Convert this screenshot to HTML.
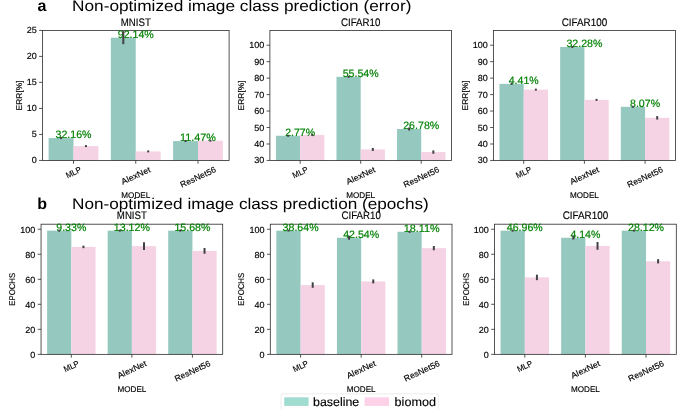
<!DOCTYPE html>
<html><head><meta charset="utf-8"><title>chart</title>
<style>html,body{margin:0;padding:0;background:#fff;overflow:hidden;}svg{display:block;will-change:transform;}text{font-family:"Liberation Sans",sans-serif;text-rendering:geometricPrecision;}</style>
</head><body>
<svg width="685" height="409" viewBox="0 0 685 409">
<rect width="685" height="409" fill="#ffffff"/>
<rect x="48.62" y="138.08" width="24.89" height="22.37" fill="#95c9bf"/>
<rect x="73.52" y="146.09" width="24.89" height="14.36" fill="#f5d3e5"/>
<rect x="110.86" y="37.68" width="24.89" height="122.77" fill="#95c9bf"/>
<rect x="135.75" y="151.40" width="24.89" height="9.05" fill="#f5d3e5"/>
<rect x="173.09" y="141.10" width="24.89" height="19.35" fill="#95c9bf"/>
<rect x="197.98" y="140.68" width="24.89" height="19.77" fill="#f5d3e5"/>
<rect x="42.40" y="30.40" width="186.70" height="130.05" fill="none" stroke="#2b2b2b" stroke-width="0.8"/>
<line x1="39.10" y1="160.45" x2="42.40" y2="160.45" stroke="#2b2b2b" stroke-width="0.8"/>
<text x="36.75" y="163.45" font-size="8.85" text-anchor="end" textLength="5.03" lengthAdjust="spacingAndGlyphs" fill="#000" stroke="#000" stroke-width="0.15">0</text>
<line x1="39.10" y1="134.44" x2="42.40" y2="134.44" stroke="#2b2b2b" stroke-width="0.8"/>
<text x="36.75" y="137.44" font-size="8.85" text-anchor="end" textLength="5.03" lengthAdjust="spacingAndGlyphs" fill="#000" stroke="#000" stroke-width="0.15">5</text>
<line x1="39.10" y1="108.43" x2="42.40" y2="108.43" stroke="#2b2b2b" stroke-width="0.8"/>
<text x="36.75" y="111.43" font-size="8.85" text-anchor="end" textLength="10.05" lengthAdjust="spacingAndGlyphs" fill="#000" stroke="#000" stroke-width="0.15">10</text>
<line x1="39.10" y1="82.42" x2="42.40" y2="82.42" stroke="#2b2b2b" stroke-width="0.8"/>
<text x="36.75" y="85.42" font-size="8.85" text-anchor="end" textLength="10.05" lengthAdjust="spacingAndGlyphs" fill="#000" stroke="#000" stroke-width="0.15">15</text>
<line x1="39.10" y1="56.41" x2="42.40" y2="56.41" stroke="#2b2b2b" stroke-width="0.8"/>
<text x="36.75" y="59.41" font-size="8.85" text-anchor="end" textLength="10.05" lengthAdjust="spacingAndGlyphs" fill="#000" stroke="#000" stroke-width="0.15">20</text>
<line x1="39.10" y1="30.40" x2="42.40" y2="30.40" stroke="#2b2b2b" stroke-width="0.8"/>
<text x="36.75" y="33.40" font-size="8.85" text-anchor="end" textLength="10.05" lengthAdjust="spacingAndGlyphs" fill="#000" stroke="#000" stroke-width="0.15">25</text>
<line x1="73.52" y1="160.45" x2="73.52" y2="163.75" stroke="#2b2b2b" stroke-width="0.8"/>
<text x="73.52" y="175.28" font-size="8.32" text-anchor="middle" textLength="16.18" lengthAdjust="spacingAndGlyphs" stroke="#000" stroke-width="0.15" transform="rotate(-25 73.52 172.38)">MLP</text>
<line x1="135.75" y1="160.45" x2="135.75" y2="163.75" stroke="#2b2b2b" stroke-width="0.8"/>
<text x="135.75" y="178.46" font-size="8.32" text-anchor="middle" textLength="31.25" lengthAdjust="spacingAndGlyphs" stroke="#000" stroke-width="0.15" transform="rotate(-25 135.75 175.56)">AlexNet</text>
<line x1="197.98" y1="160.45" x2="197.98" y2="163.75" stroke="#2b2b2b" stroke-width="0.8"/>
<text x="197.98" y="179.99" font-size="8.32" text-anchor="middle" textLength="38.51" lengthAdjust="spacingAndGlyphs" stroke="#000" stroke-width="0.15" transform="rotate(-25 197.98 177.09)">ResNet56</text>
<text x="135.75" y="198.25" font-size="8.32" text-anchor="middle" textLength="28.87" lengthAdjust="spacingAndGlyphs" fill="#000" stroke="#000" stroke-width="0.15">MODEL</text>
<text x="21.80" y="95.42" font-size="8.32" text-anchor="middle" textLength="30.02" lengthAdjust="spacingAndGlyphs" transform="rotate(-90 21.80 95.42)" fill="#000" stroke="#000" stroke-width="0.15">ERR[%]</text>
<text x="135.75" y="25.50" font-size="10.98" text-anchor="middle" textLength="30.10" lengthAdjust="spacingAndGlyphs" fill="#000" stroke="#000" stroke-width="0.15">MNIST</text>
<text x="73.52" y="138.38" font-size="10.73" text-anchor="middle" textLength="36.03" lengthAdjust="spacingAndGlyphs" fill="#008000" stroke="#008000" stroke-width="0.18">32.16%</text>
<text x="135.75" y="37.98" font-size="10.73" text-anchor="middle" textLength="36.03" lengthAdjust="spacingAndGlyphs" fill="#008000" stroke="#008000" stroke-width="0.18">92.14%</text>
<text x="197.98" y="141.40" font-size="10.73" text-anchor="middle" textLength="36.03" lengthAdjust="spacingAndGlyphs" fill="#008000" stroke="#008000" stroke-width="0.18">11.47%</text>
<line x1="61.07" y1="137.08" x2="61.07" y2="139.08" stroke="#424242" stroke-width="2"/>
<line x1="85.96" y1="145.09" x2="85.96" y2="147.09" stroke="#424242" stroke-width="2"/>
<line x1="123.30" y1="31.18" x2="123.30" y2="44.19" stroke="#424242" stroke-width="2"/>
<line x1="148.20" y1="150.40" x2="148.20" y2="152.40" stroke="#424242" stroke-width="2"/>
<line x1="185.54" y1="140.10" x2="185.54" y2="142.10" stroke="#424242" stroke-width="2"/>
<line x1="210.43" y1="139.68" x2="210.43" y2="141.68" stroke="#424242" stroke-width="2"/>
<rect x="275.95" y="135.75" width="24.21" height="24.70" fill="#95c9bf"/>
<rect x="300.17" y="134.93" width="24.21" height="25.52" fill="#f5d3e5"/>
<rect x="336.49" y="76.81" width="24.21" height="83.64" fill="#95c9bf"/>
<rect x="360.70" y="149.42" width="24.21" height="11.03" fill="#f5d3e5"/>
<rect x="397.02" y="129.00" width="24.21" height="31.45" fill="#95c9bf"/>
<rect x="421.23" y="152.05" width="24.21" height="8.40" fill="#f5d3e5"/>
<rect x="269.90" y="30.40" width="181.60" height="130.05" fill="none" stroke="#2b2b2b" stroke-width="0.8"/>
<line x1="266.60" y1="160.45" x2="269.90" y2="160.45" stroke="#2b2b2b" stroke-width="0.8"/>
<text x="264.25" y="163.45" font-size="8.85" text-anchor="end" textLength="10.05" lengthAdjust="spacingAndGlyphs" fill="#000" stroke="#000" stroke-width="0.15">30</text>
<line x1="266.60" y1="143.99" x2="269.90" y2="143.99" stroke="#2b2b2b" stroke-width="0.8"/>
<text x="264.25" y="146.99" font-size="8.85" text-anchor="end" textLength="10.05" lengthAdjust="spacingAndGlyphs" fill="#000" stroke="#000" stroke-width="0.15">40</text>
<line x1="266.60" y1="127.52" x2="269.90" y2="127.52" stroke="#2b2b2b" stroke-width="0.8"/>
<text x="264.25" y="130.52" font-size="8.85" text-anchor="end" textLength="10.05" lengthAdjust="spacingAndGlyphs" fill="#000" stroke="#000" stroke-width="0.15">50</text>
<line x1="266.60" y1="111.06" x2="269.90" y2="111.06" stroke="#2b2b2b" stroke-width="0.8"/>
<text x="264.25" y="114.06" font-size="8.85" text-anchor="end" textLength="10.05" lengthAdjust="spacingAndGlyphs" fill="#000" stroke="#000" stroke-width="0.15">60</text>
<line x1="266.60" y1="94.59" x2="269.90" y2="94.59" stroke="#2b2b2b" stroke-width="0.8"/>
<text x="264.25" y="97.59" font-size="8.85" text-anchor="end" textLength="10.05" lengthAdjust="spacingAndGlyphs" fill="#000" stroke="#000" stroke-width="0.15">70</text>
<line x1="266.60" y1="78.13" x2="269.90" y2="78.13" stroke="#2b2b2b" stroke-width="0.8"/>
<text x="264.25" y="81.13" font-size="8.85" text-anchor="end" textLength="10.05" lengthAdjust="spacingAndGlyphs" fill="#000" stroke="#000" stroke-width="0.15">80</text>
<line x1="266.60" y1="61.67" x2="269.90" y2="61.67" stroke="#2b2b2b" stroke-width="0.8"/>
<text x="264.25" y="64.67" font-size="8.85" text-anchor="end" textLength="10.05" lengthAdjust="spacingAndGlyphs" fill="#000" stroke="#000" stroke-width="0.15">90</text>
<line x1="266.60" y1="45.20" x2="269.90" y2="45.20" stroke="#2b2b2b" stroke-width="0.8"/>
<text x="264.25" y="48.20" font-size="8.85" text-anchor="end" textLength="15.08" lengthAdjust="spacingAndGlyphs" fill="#000" stroke="#000" stroke-width="0.15">100</text>
<line x1="300.17" y1="160.45" x2="300.17" y2="163.75" stroke="#2b2b2b" stroke-width="0.8"/>
<text x="300.17" y="175.28" font-size="8.32" text-anchor="middle" textLength="16.18" lengthAdjust="spacingAndGlyphs" stroke="#000" stroke-width="0.15" transform="rotate(-25 300.17 172.38)">MLP</text>
<line x1="360.70" y1="160.45" x2="360.70" y2="163.75" stroke="#2b2b2b" stroke-width="0.8"/>
<text x="360.70" y="178.46" font-size="8.32" text-anchor="middle" textLength="31.25" lengthAdjust="spacingAndGlyphs" stroke="#000" stroke-width="0.15" transform="rotate(-25 360.70 175.56)">AlexNet</text>
<line x1="421.23" y1="160.45" x2="421.23" y2="163.75" stroke="#2b2b2b" stroke-width="0.8"/>
<text x="421.23" y="179.99" font-size="8.32" text-anchor="middle" textLength="38.51" lengthAdjust="spacingAndGlyphs" stroke="#000" stroke-width="0.15" transform="rotate(-25 421.23 177.09)">ResNet56</text>
<text x="360.70" y="198.25" font-size="8.32" text-anchor="middle" textLength="28.87" lengthAdjust="spacingAndGlyphs" fill="#000" stroke="#000" stroke-width="0.15">MODEL</text>
<text x="244.10" y="95.42" font-size="8.32" text-anchor="middle" textLength="30.02" lengthAdjust="spacingAndGlyphs" transform="rotate(-90 244.10 95.42)" fill="#000" stroke="#000" stroke-width="0.15">ERR[%]</text>
<text x="360.70" y="25.50" font-size="10.98" text-anchor="middle" textLength="39.42" lengthAdjust="spacingAndGlyphs" fill="#000" stroke="#000" stroke-width="0.15">CIFAR10</text>
<text x="300.17" y="136.05" font-size="10.73" text-anchor="middle" textLength="30.02" lengthAdjust="spacingAndGlyphs" fill="#008000" stroke="#008000" stroke-width="0.18">2.77%</text>
<text x="360.70" y="77.11" font-size="10.73" text-anchor="middle" textLength="36.03" lengthAdjust="spacingAndGlyphs" fill="#008000" stroke="#008000" stroke-width="0.18">55.54%</text>
<text x="421.23" y="129.30" font-size="10.73" text-anchor="middle" textLength="36.03" lengthAdjust="spacingAndGlyphs" fill="#008000" stroke="#008000" stroke-width="0.18">26.78%</text>
<line x1="288.06" y1="134.75" x2="288.06" y2="136.75" stroke="#424242" stroke-width="2"/>
<line x1="312.27" y1="133.93" x2="312.27" y2="135.93" stroke="#424242" stroke-width="2"/>
<line x1="348.59" y1="75.81" x2="348.59" y2="77.81" stroke="#424242" stroke-width="2"/>
<line x1="372.81" y1="147.94" x2="372.81" y2="150.90" stroke="#424242" stroke-width="2"/>
<line x1="409.13" y1="127.52" x2="409.13" y2="130.49" stroke="#424242" stroke-width="2"/>
<line x1="433.34" y1="150.41" x2="433.34" y2="153.70" stroke="#424242" stroke-width="2"/>
<rect x="499.47" y="83.89" width="24.27" height="76.56" fill="#95c9bf"/>
<rect x="523.73" y="89.65" width="24.27" height="70.80" fill="#f5d3e5"/>
<rect x="560.13" y="47.01" width="24.27" height="113.44" fill="#95c9bf"/>
<rect x="584.40" y="99.86" width="24.27" height="60.59" fill="#f5d3e5"/>
<rect x="620.80" y="106.78" width="24.27" height="53.67" fill="#95c9bf"/>
<rect x="645.07" y="117.81" width="24.27" height="42.64" fill="#f5d3e5"/>
<rect x="493.40" y="30.40" width="182.00" height="130.05" fill="none" stroke="#2b2b2b" stroke-width="0.8"/>
<line x1="490.10" y1="160.45" x2="493.40" y2="160.45" stroke="#2b2b2b" stroke-width="0.8"/>
<text x="487.75" y="163.45" font-size="8.85" text-anchor="end" textLength="10.05" lengthAdjust="spacingAndGlyphs" fill="#000" stroke="#000" stroke-width="0.15">30</text>
<line x1="490.10" y1="143.99" x2="493.40" y2="143.99" stroke="#2b2b2b" stroke-width="0.8"/>
<text x="487.75" y="146.99" font-size="8.85" text-anchor="end" textLength="10.05" lengthAdjust="spacingAndGlyphs" fill="#000" stroke="#000" stroke-width="0.15">40</text>
<line x1="490.10" y1="127.52" x2="493.40" y2="127.52" stroke="#2b2b2b" stroke-width="0.8"/>
<text x="487.75" y="130.52" font-size="8.85" text-anchor="end" textLength="10.05" lengthAdjust="spacingAndGlyphs" fill="#000" stroke="#000" stroke-width="0.15">50</text>
<line x1="490.10" y1="111.06" x2="493.40" y2="111.06" stroke="#2b2b2b" stroke-width="0.8"/>
<text x="487.75" y="114.06" font-size="8.85" text-anchor="end" textLength="10.05" lengthAdjust="spacingAndGlyphs" fill="#000" stroke="#000" stroke-width="0.15">60</text>
<line x1="490.10" y1="94.59" x2="493.40" y2="94.59" stroke="#2b2b2b" stroke-width="0.8"/>
<text x="487.75" y="97.59" font-size="8.85" text-anchor="end" textLength="10.05" lengthAdjust="spacingAndGlyphs" fill="#000" stroke="#000" stroke-width="0.15">70</text>
<line x1="490.10" y1="78.13" x2="493.40" y2="78.13" stroke="#2b2b2b" stroke-width="0.8"/>
<text x="487.75" y="81.13" font-size="8.85" text-anchor="end" textLength="10.05" lengthAdjust="spacingAndGlyphs" fill="#000" stroke="#000" stroke-width="0.15">80</text>
<line x1="490.10" y1="61.67" x2="493.40" y2="61.67" stroke="#2b2b2b" stroke-width="0.8"/>
<text x="487.75" y="64.67" font-size="8.85" text-anchor="end" textLength="10.05" lengthAdjust="spacingAndGlyphs" fill="#000" stroke="#000" stroke-width="0.15">90</text>
<line x1="490.10" y1="45.20" x2="493.40" y2="45.20" stroke="#2b2b2b" stroke-width="0.8"/>
<text x="487.75" y="48.20" font-size="8.85" text-anchor="end" textLength="15.08" lengthAdjust="spacingAndGlyphs" fill="#000" stroke="#000" stroke-width="0.15">100</text>
<line x1="523.73" y1="160.45" x2="523.73" y2="163.75" stroke="#2b2b2b" stroke-width="0.8"/>
<text x="523.73" y="175.28" font-size="8.32" text-anchor="middle" textLength="16.18" lengthAdjust="spacingAndGlyphs" stroke="#000" stroke-width="0.15" transform="rotate(-25 523.73 172.38)">MLP</text>
<line x1="584.40" y1="160.45" x2="584.40" y2="163.75" stroke="#2b2b2b" stroke-width="0.8"/>
<text x="584.40" y="178.46" font-size="8.32" text-anchor="middle" textLength="31.25" lengthAdjust="spacingAndGlyphs" stroke="#000" stroke-width="0.15" transform="rotate(-25 584.40 175.56)">AlexNet</text>
<line x1="645.07" y1="160.45" x2="645.07" y2="163.75" stroke="#2b2b2b" stroke-width="0.8"/>
<text x="645.07" y="179.99" font-size="8.32" text-anchor="middle" textLength="38.51" lengthAdjust="spacingAndGlyphs" stroke="#000" stroke-width="0.15" transform="rotate(-25 645.07 177.09)">ResNet56</text>
<text x="584.40" y="198.25" font-size="8.32" text-anchor="middle" textLength="28.87" lengthAdjust="spacingAndGlyphs" fill="#000" stroke="#000" stroke-width="0.15">MODEL</text>
<text x="467.60" y="95.42" font-size="8.32" text-anchor="middle" textLength="30.02" lengthAdjust="spacingAndGlyphs" transform="rotate(-90 467.60 95.42)" fill="#000" stroke="#000" stroke-width="0.15">ERR[%]</text>
<text x="584.40" y="25.50" font-size="10.98" text-anchor="middle" textLength="45.50" lengthAdjust="spacingAndGlyphs" fill="#000" stroke="#000" stroke-width="0.15">CIFAR100</text>
<text x="523.73" y="84.19" font-size="10.73" text-anchor="middle" textLength="30.02" lengthAdjust="spacingAndGlyphs" fill="#008000" stroke="#008000" stroke-width="0.18">4.41%</text>
<text x="584.40" y="47.31" font-size="10.73" text-anchor="middle" textLength="36.03" lengthAdjust="spacingAndGlyphs" fill="#008000" stroke="#008000" stroke-width="0.18">32.28%</text>
<text x="645.07" y="107.08" font-size="10.73" text-anchor="middle" textLength="30.02" lengthAdjust="spacingAndGlyphs" fill="#008000" stroke="#008000" stroke-width="0.18">8.07%</text>
<line x1="511.60" y1="82.89" x2="511.60" y2="84.89" stroke="#424242" stroke-width="2"/>
<line x1="535.87" y1="88.65" x2="535.87" y2="90.65" stroke="#424242" stroke-width="2"/>
<line x1="572.27" y1="46.01" x2="572.27" y2="48.01" stroke="#424242" stroke-width="2"/>
<line x1="596.53" y1="98.86" x2="596.53" y2="100.86" stroke="#424242" stroke-width="2"/>
<line x1="632.93" y1="105.78" x2="632.93" y2="107.78" stroke="#424242" stroke-width="2"/>
<line x1="657.20" y1="116.08" x2="657.20" y2="119.54" stroke="#424242" stroke-width="2"/>
<rect x="47.10" y="230.64" width="24.22" height="123.71" fill="#95c9bf"/>
<rect x="71.32" y="246.90" width="24.22" height="107.45" fill="#f5d3e5"/>
<rect x="107.66" y="230.64" width="24.22" height="123.71" fill="#95c9bf"/>
<rect x="131.88" y="246.15" width="24.22" height="108.20" fill="#f5d3e5"/>
<rect x="168.20" y="230.64" width="24.22" height="123.71" fill="#95c9bf"/>
<rect x="192.42" y="250.90" width="24.22" height="103.45" fill="#f5d3e5"/>
<rect x="41.05" y="224.20" width="181.65" height="130.15" fill="none" stroke="#2b2b2b" stroke-width="0.8"/>
<line x1="37.75" y1="354.35" x2="41.05" y2="354.35" stroke="#2b2b2b" stroke-width="0.8"/>
<text x="35.40" y="357.85" font-size="8.85" text-anchor="end" textLength="5.03" lengthAdjust="spacingAndGlyphs" fill="#000" stroke="#000" stroke-width="0.15">0</text>
<line x1="37.75" y1="329.33" x2="41.05" y2="329.33" stroke="#2b2b2b" stroke-width="0.8"/>
<text x="35.40" y="332.83" font-size="8.85" text-anchor="end" textLength="10.05" lengthAdjust="spacingAndGlyphs" fill="#000" stroke="#000" stroke-width="0.15">20</text>
<line x1="37.75" y1="304.31" x2="41.05" y2="304.31" stroke="#2b2b2b" stroke-width="0.8"/>
<text x="35.40" y="307.81" font-size="8.85" text-anchor="end" textLength="10.05" lengthAdjust="spacingAndGlyphs" fill="#000" stroke="#000" stroke-width="0.15">40</text>
<line x1="37.75" y1="279.30" x2="41.05" y2="279.30" stroke="#2b2b2b" stroke-width="0.8"/>
<text x="35.40" y="282.80" font-size="8.85" text-anchor="end" textLength="10.05" lengthAdjust="spacingAndGlyphs" fill="#000" stroke="#000" stroke-width="0.15">60</text>
<line x1="37.75" y1="254.28" x2="41.05" y2="254.28" stroke="#2b2b2b" stroke-width="0.8"/>
<text x="35.40" y="257.78" font-size="8.85" text-anchor="end" textLength="10.05" lengthAdjust="spacingAndGlyphs" fill="#000" stroke="#000" stroke-width="0.15">80</text>
<line x1="37.75" y1="229.26" x2="41.05" y2="229.26" stroke="#2b2b2b" stroke-width="0.8"/>
<text x="35.40" y="232.76" font-size="8.85" text-anchor="end" textLength="15.08" lengthAdjust="spacingAndGlyphs" fill="#000" stroke="#000" stroke-width="0.15">100</text>
<line x1="71.32" y1="354.35" x2="71.32" y2="357.65" stroke="#2b2b2b" stroke-width="0.8"/>
<text x="71.32" y="369.18" font-size="8.32" text-anchor="middle" textLength="16.18" lengthAdjust="spacingAndGlyphs" stroke="#000" stroke-width="0.15" transform="rotate(-25 71.32 366.28)">MLP</text>
<line x1="131.88" y1="354.35" x2="131.88" y2="357.65" stroke="#2b2b2b" stroke-width="0.8"/>
<text x="131.88" y="372.36" font-size="8.32" text-anchor="middle" textLength="31.25" lengthAdjust="spacingAndGlyphs" stroke="#000" stroke-width="0.15" transform="rotate(-25 131.88 369.46)">AlexNet</text>
<line x1="192.42" y1="354.35" x2="192.42" y2="357.65" stroke="#2b2b2b" stroke-width="0.8"/>
<text x="192.42" y="373.89" font-size="8.32" text-anchor="middle" textLength="38.51" lengthAdjust="spacingAndGlyphs" stroke="#000" stroke-width="0.15" transform="rotate(-25 192.42 370.99)">ResNet56</text>
<text x="131.88" y="391.75" font-size="8.32" text-anchor="middle" textLength="28.87" lengthAdjust="spacingAndGlyphs" fill="#000" stroke="#000" stroke-width="0.15">MODEL</text>
<text x="15.40" y="289.27" font-size="8.32" text-anchor="middle" textLength="32.86" lengthAdjust="spacingAndGlyphs" transform="rotate(-90 15.40 289.27)" fill="#000" stroke="#000" stroke-width="0.15">EPOCHS</text>
<text x="131.88" y="219.30" font-size="10.98" text-anchor="middle" textLength="30.10" lengthAdjust="spacingAndGlyphs" fill="#000" stroke="#000" stroke-width="0.15">MNIST</text>
<text x="71.32" y="230.94" font-size="10.73" text-anchor="middle" textLength="30.02" lengthAdjust="spacingAndGlyphs" fill="#008000" stroke="#008000" stroke-width="0.18">9.33%</text>
<text x="131.88" y="230.94" font-size="10.73" text-anchor="middle" textLength="36.03" lengthAdjust="spacingAndGlyphs" fill="#008000" stroke="#008000" stroke-width="0.18">13.12%</text>
<text x="192.42" y="230.94" font-size="10.73" text-anchor="middle" textLength="36.03" lengthAdjust="spacingAndGlyphs" fill="#008000" stroke="#008000" stroke-width="0.18">15.68%</text>
<line x1="59.21" y1="229.64" x2="59.21" y2="231.64" stroke="#424242" stroke-width="2"/>
<line x1="83.43" y1="245.65" x2="83.43" y2="248.15" stroke="#424242" stroke-width="2"/>
<line x1="119.77" y1="229.64" x2="119.77" y2="231.64" stroke="#424242" stroke-width="2"/>
<line x1="143.99" y1="242.27" x2="143.99" y2="250.02" stroke="#424242" stroke-width="2"/>
<line x1="180.31" y1="229.64" x2="180.31" y2="231.64" stroke="#424242" stroke-width="2"/>
<line x1="204.53" y1="248.02" x2="204.53" y2="253.78" stroke="#424242" stroke-width="2"/>
<rect x="276.36" y="230.64" width="24.23" height="123.71" fill="#95c9bf"/>
<rect x="300.58" y="285.05" width="24.23" height="69.30" fill="#f5d3e5"/>
<rect x="336.92" y="237.77" width="24.23" height="116.58" fill="#95c9bf"/>
<rect x="361.15" y="281.42" width="24.23" height="72.93" fill="#f5d3e5"/>
<rect x="397.49" y="231.76" width="24.23" height="122.59" fill="#95c9bf"/>
<rect x="421.72" y="248.15" width="24.23" height="106.20" fill="#f5d3e5"/>
<rect x="270.30" y="224.20" width="181.70" height="130.15" fill="none" stroke="#2b2b2b" stroke-width="0.8"/>
<line x1="267.00" y1="354.35" x2="270.30" y2="354.35" stroke="#2b2b2b" stroke-width="0.8"/>
<text x="264.65" y="357.85" font-size="8.85" text-anchor="end" textLength="5.03" lengthAdjust="spacingAndGlyphs" fill="#000" stroke="#000" stroke-width="0.15">0</text>
<line x1="267.00" y1="329.33" x2="270.30" y2="329.33" stroke="#2b2b2b" stroke-width="0.8"/>
<text x="264.65" y="332.83" font-size="8.85" text-anchor="end" textLength="10.05" lengthAdjust="spacingAndGlyphs" fill="#000" stroke="#000" stroke-width="0.15">20</text>
<line x1="267.00" y1="304.31" x2="270.30" y2="304.31" stroke="#2b2b2b" stroke-width="0.8"/>
<text x="264.65" y="307.81" font-size="8.85" text-anchor="end" textLength="10.05" lengthAdjust="spacingAndGlyphs" fill="#000" stroke="#000" stroke-width="0.15">40</text>
<line x1="267.00" y1="279.30" x2="270.30" y2="279.30" stroke="#2b2b2b" stroke-width="0.8"/>
<text x="264.65" y="282.80" font-size="8.85" text-anchor="end" textLength="10.05" lengthAdjust="spacingAndGlyphs" fill="#000" stroke="#000" stroke-width="0.15">60</text>
<line x1="267.00" y1="254.28" x2="270.30" y2="254.28" stroke="#2b2b2b" stroke-width="0.8"/>
<text x="264.65" y="257.78" font-size="8.85" text-anchor="end" textLength="10.05" lengthAdjust="spacingAndGlyphs" fill="#000" stroke="#000" stroke-width="0.15">80</text>
<line x1="267.00" y1="229.26" x2="270.30" y2="229.26" stroke="#2b2b2b" stroke-width="0.8"/>
<text x="264.65" y="232.76" font-size="8.85" text-anchor="end" textLength="15.08" lengthAdjust="spacingAndGlyphs" fill="#000" stroke="#000" stroke-width="0.15">100</text>
<line x1="300.58" y1="354.35" x2="300.58" y2="357.65" stroke="#2b2b2b" stroke-width="0.8"/>
<text x="300.58" y="369.18" font-size="8.32" text-anchor="middle" textLength="16.18" lengthAdjust="spacingAndGlyphs" stroke="#000" stroke-width="0.15" transform="rotate(-25 300.58 366.28)">MLP</text>
<line x1="361.15" y1="354.35" x2="361.15" y2="357.65" stroke="#2b2b2b" stroke-width="0.8"/>
<text x="361.15" y="372.36" font-size="8.32" text-anchor="middle" textLength="31.25" lengthAdjust="spacingAndGlyphs" stroke="#000" stroke-width="0.15" transform="rotate(-25 361.15 369.46)">AlexNet</text>
<line x1="421.72" y1="354.35" x2="421.72" y2="357.65" stroke="#2b2b2b" stroke-width="0.8"/>
<text x="421.72" y="373.89" font-size="8.32" text-anchor="middle" textLength="38.51" lengthAdjust="spacingAndGlyphs" stroke="#000" stroke-width="0.15" transform="rotate(-25 421.72 370.99)">ResNet56</text>
<text x="361.15" y="391.75" font-size="8.32" text-anchor="middle" textLength="28.87" lengthAdjust="spacingAndGlyphs" fill="#000" stroke="#000" stroke-width="0.15">MODEL</text>
<text x="244.50" y="289.27" font-size="8.32" text-anchor="middle" textLength="32.86" lengthAdjust="spacingAndGlyphs" transform="rotate(-90 244.50 289.27)" fill="#000" stroke="#000" stroke-width="0.15">EPOCHS</text>
<text x="361.15" y="219.30" font-size="10.98" text-anchor="middle" textLength="39.42" lengthAdjust="spacingAndGlyphs" fill="#000" stroke="#000" stroke-width="0.15">CIFAR10</text>
<text x="300.58" y="230.94" font-size="10.73" text-anchor="middle" textLength="36.03" lengthAdjust="spacingAndGlyphs" fill="#008000" stroke="#008000" stroke-width="0.18">38.64%</text>
<text x="361.15" y="238.07" font-size="10.73" text-anchor="middle" textLength="36.03" lengthAdjust="spacingAndGlyphs" fill="#008000" stroke="#008000" stroke-width="0.18">42.54%</text>
<text x="421.72" y="232.06" font-size="10.73" text-anchor="middle" textLength="36.03" lengthAdjust="spacingAndGlyphs" fill="#008000" stroke="#008000" stroke-width="0.18">18.11%</text>
<line x1="288.47" y1="229.64" x2="288.47" y2="231.64" stroke="#424242" stroke-width="2"/>
<line x1="312.70" y1="282.30" x2="312.70" y2="287.80" stroke="#424242" stroke-width="2"/>
<line x1="349.04" y1="235.76" x2="349.04" y2="239.77" stroke="#424242" stroke-width="2"/>
<line x1="373.26" y1="279.42" x2="373.26" y2="283.42" stroke="#424242" stroke-width="2"/>
<line x1="409.60" y1="230.64" x2="409.60" y2="232.89" stroke="#424242" stroke-width="2"/>
<line x1="433.83" y1="246.02" x2="433.83" y2="250.28" stroke="#424242" stroke-width="2"/>
<rect x="500.56" y="230.64" width="24.24" height="123.71" fill="#95c9bf"/>
<rect x="524.80" y="277.42" width="24.24" height="76.93" fill="#f5d3e5"/>
<rect x="561.16" y="237.77" width="24.24" height="116.58" fill="#95c9bf"/>
<rect x="585.40" y="245.90" width="24.24" height="108.45" fill="#f5d3e5"/>
<rect x="621.76" y="230.64" width="24.24" height="123.71" fill="#95c9bf"/>
<rect x="646.00" y="261.28" width="24.24" height="93.07" fill="#f5d3e5"/>
<rect x="494.50" y="224.20" width="181.80" height="130.15" fill="none" stroke="#2b2b2b" stroke-width="0.8"/>
<line x1="491.20" y1="354.35" x2="494.50" y2="354.35" stroke="#2b2b2b" stroke-width="0.8"/>
<text x="488.85" y="357.85" font-size="8.85" text-anchor="end" textLength="5.03" lengthAdjust="spacingAndGlyphs" fill="#000" stroke="#000" stroke-width="0.15">0</text>
<line x1="491.20" y1="329.33" x2="494.50" y2="329.33" stroke="#2b2b2b" stroke-width="0.8"/>
<text x="488.85" y="332.83" font-size="8.85" text-anchor="end" textLength="10.05" lengthAdjust="spacingAndGlyphs" fill="#000" stroke="#000" stroke-width="0.15">20</text>
<line x1="491.20" y1="304.31" x2="494.50" y2="304.31" stroke="#2b2b2b" stroke-width="0.8"/>
<text x="488.85" y="307.81" font-size="8.85" text-anchor="end" textLength="10.05" lengthAdjust="spacingAndGlyphs" fill="#000" stroke="#000" stroke-width="0.15">40</text>
<line x1="491.20" y1="279.30" x2="494.50" y2="279.30" stroke="#2b2b2b" stroke-width="0.8"/>
<text x="488.85" y="282.80" font-size="8.85" text-anchor="end" textLength="10.05" lengthAdjust="spacingAndGlyphs" fill="#000" stroke="#000" stroke-width="0.15">60</text>
<line x1="491.20" y1="254.28" x2="494.50" y2="254.28" stroke="#2b2b2b" stroke-width="0.8"/>
<text x="488.85" y="257.78" font-size="8.85" text-anchor="end" textLength="10.05" lengthAdjust="spacingAndGlyphs" fill="#000" stroke="#000" stroke-width="0.15">80</text>
<line x1="491.20" y1="229.26" x2="494.50" y2="229.26" stroke="#2b2b2b" stroke-width="0.8"/>
<text x="488.85" y="232.76" font-size="8.85" text-anchor="end" textLength="15.08" lengthAdjust="spacingAndGlyphs" fill="#000" stroke="#000" stroke-width="0.15">100</text>
<line x1="524.80" y1="354.35" x2="524.80" y2="357.65" stroke="#2b2b2b" stroke-width="0.8"/>
<text x="524.80" y="369.18" font-size="8.32" text-anchor="middle" textLength="16.18" lengthAdjust="spacingAndGlyphs" stroke="#000" stroke-width="0.15" transform="rotate(-25 524.80 366.28)">MLP</text>
<line x1="585.40" y1="354.35" x2="585.40" y2="357.65" stroke="#2b2b2b" stroke-width="0.8"/>
<text x="585.40" y="372.36" font-size="8.32" text-anchor="middle" textLength="31.25" lengthAdjust="spacingAndGlyphs" stroke="#000" stroke-width="0.15" transform="rotate(-25 585.40 369.46)">AlexNet</text>
<line x1="646.00" y1="354.35" x2="646.00" y2="357.65" stroke="#2b2b2b" stroke-width="0.8"/>
<text x="646.00" y="373.89" font-size="8.32" text-anchor="middle" textLength="38.51" lengthAdjust="spacingAndGlyphs" stroke="#000" stroke-width="0.15" transform="rotate(-25 646.00 370.99)">ResNet56</text>
<text x="585.40" y="391.75" font-size="8.32" text-anchor="middle" textLength="28.87" lengthAdjust="spacingAndGlyphs" fill="#000" stroke="#000" stroke-width="0.15">MODEL</text>
<text x="468.70" y="289.27" font-size="8.32" text-anchor="middle" textLength="32.86" lengthAdjust="spacingAndGlyphs" transform="rotate(-90 468.70 289.27)" fill="#000" stroke="#000" stroke-width="0.15">EPOCHS</text>
<text x="585.40" y="219.30" font-size="10.98" text-anchor="middle" textLength="45.50" lengthAdjust="spacingAndGlyphs" fill="#000" stroke="#000" stroke-width="0.15">CIFAR100</text>
<text x="524.80" y="230.94" font-size="10.73" text-anchor="middle" textLength="36.03" lengthAdjust="spacingAndGlyphs" fill="#008000" stroke="#008000" stroke-width="0.18">46.96%</text>
<text x="585.40" y="238.07" font-size="10.73" text-anchor="middle" textLength="30.02" lengthAdjust="spacingAndGlyphs" fill="#008000" stroke="#008000" stroke-width="0.18">4.14%</text>
<text x="646.00" y="230.94" font-size="10.73" text-anchor="middle" textLength="36.03" lengthAdjust="spacingAndGlyphs" fill="#008000" stroke="#008000" stroke-width="0.18">28.12%</text>
<line x1="512.68" y1="229.64" x2="512.68" y2="231.64" stroke="#424242" stroke-width="2"/>
<line x1="536.92" y1="274.67" x2="536.92" y2="280.17" stroke="#424242" stroke-width="2"/>
<line x1="573.28" y1="236.01" x2="573.28" y2="239.52" stroke="#424242" stroke-width="2"/>
<line x1="597.52" y1="242.02" x2="597.52" y2="249.77" stroke="#424242" stroke-width="2"/>
<line x1="633.88" y1="229.64" x2="633.88" y2="231.64" stroke="#424242" stroke-width="2"/>
<line x1="658.12" y1="259.16" x2="658.12" y2="263.41" stroke="#424242" stroke-width="2"/>
<text x="37.50" y="11.45" font-size="16.0" text-anchor="start" font-weight="bold" fill="#000">a</text>
<text x="72.00" y="11.45" font-size="15.45" text-anchor="start" textLength="339.41" lengthAdjust="spacingAndGlyphs" fill="#000">Non-optimized image class prediction (error)</text>
<text x="37.30" y="209.45" font-size="16.0" text-anchor="start" font-weight="bold" fill="#000">b</text>
<text x="72.00" y="209.45" font-size="15.45" text-anchor="start" textLength="356.77" lengthAdjust="spacingAndGlyphs" fill="#000">Non-optimized image class prediction (epochs)</text>
<rect x="281" y="393.8" width="157.6" height="20" rx="1.5" fill="#fff" fill-opacity="0.8" stroke="#cccccc" stroke-opacity="0.45" stroke-width="0.8"/>
<rect x="284.2" y="397.3" width="24.4" height="8.6" fill="#a1dcd0"/>
<rect x="364.6" y="397.3" width="24.4" height="8.6" fill="#fdd1e8"/>
<text x="313.00" y="405.90" font-size="12.16" text-anchor="start" textLength="46.28" lengthAdjust="spacingAndGlyphs" fill="#000" stroke="#000" stroke-width="0.15">baseline</text>
<text x="394.60" y="405.90" font-size="12.16" text-anchor="start" textLength="41.38" lengthAdjust="spacingAndGlyphs" fill="#000" stroke="#000" stroke-width="0.15">biomod</text>
</svg>
</body></html>
